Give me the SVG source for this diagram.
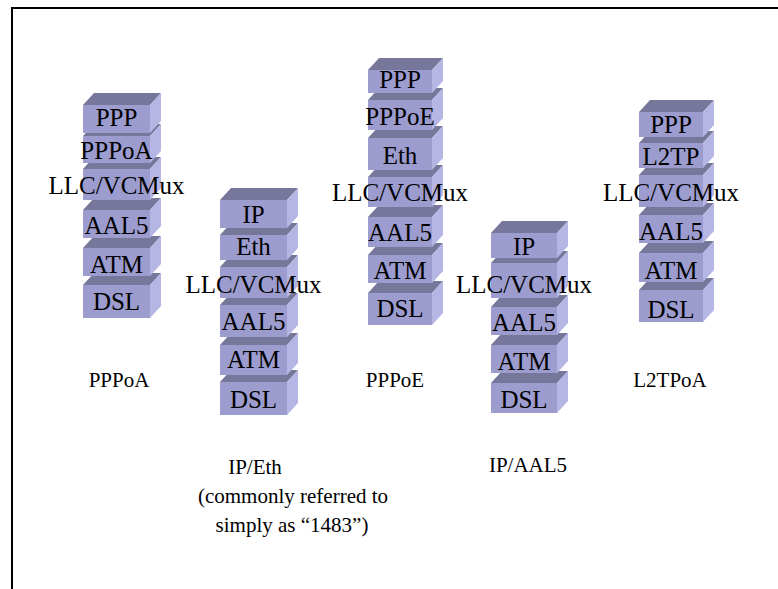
<svg xmlns="http://www.w3.org/2000/svg" width="778" height="589" viewBox="0 0 778 589">
  <style>
    .front { fill: #9c9ccf; }
    .top { fill: #77779c; }
    .side { fill: #b6b6e4; }
    text { font-family: 'Liberation Serif', 'DejaVu Serif', serif; fill: #000; text-anchor: middle; }
    .lbl { font-size: 25px; }
    .cap { font-size: 21px; }
    .frame { fill: none; stroke: #000; stroke-width: 2; }
  </style>
  <rect width="778" height="589" fill="#fff"/>
  <path class="frame" d="M12,589 V8 H778"/>

  <!-- PPPoA stack -->
  <g id="stack-pppoa">
    <g id="pppoa-dsl"><polygon class="top" points="83,285 150,285 161,273 94,273"/><polygon class="side" points="150,285 161,273 161,306 150,318"/><rect class="front" x="83" y="285" width="67" height="33"/><text class="lbl" x="116.5" y="310">DSL</text></g>
    <g id="pppoa-atm"><polygon class="top" points="83,248 150,248 161,236 94,236"/><polygon class="side" points="150,248 161,236 161,264 150,276"/><rect class="front" x="83" y="248" width="67" height="28"/><text class="lbl" x="116.5" y="273">ATM</text></g>
    <g id="pppoa-aal5"><polygon class="top" points="83,210 150,210 161,198 94,198"/><polygon class="side" points="150,210 161,198 161,226 150,238"/><rect class="front" x="83" y="210" width="67" height="28"/><text class="lbl" x="116.5" y="234">AAL5</text></g>
    <g id="pppoa-llc"><polygon class="top" points="83,169 150,169 161,157 94,157"/><polygon class="side" points="150,169 161,157 161,188 150,200"/><rect class="front" x="83" y="169" width="67" height="31"/><text class="lbl" x="116.5" y="194">LLC/VCMux</text></g>
    <g id="pppoa-pppoa"><polygon class="top" points="83,136 150,136 161,124 94,124"/><polygon class="side" points="150,136 161,124 161,151 150,163"/><rect class="front" x="83" y="136" width="67" height="27"/><text class="lbl" x="116.5" y="159">PPPoA</text></g>
    <g id="pppoa-ppp"><polygon class="top" points="83,105 150,105 161,93 94,93"/><polygon class="side" points="150,105 161,93 161,121 150,133"/><rect class="front" x="83" y="105" width="67" height="28"/><text class="lbl" x="116.5" y="126">PPP</text></g>
    <text class="cap" x="119" y="387">PPPoA</text>
  </g>

  <!-- IP over Ethernet stack -->
  <g id="stack-ipeth">
    <g id="ipeth-dsl"><polygon class="top" points="220,382 287,382 298,370 231,370"/><polygon class="side" points="287,382 298,370 298,403 287,415"/><rect class="front" x="220" y="382" width="67" height="33"/><text class="lbl" x="253.5" y="408">DSL</text></g>
    <g id="ipeth-atm"><polygon class="top" points="220,345 287,345 298,333 231,333"/><polygon class="side" points="287,345 298,333 298,363 287,375"/><rect class="front" x="220" y="345" width="67" height="30"/><text class="lbl" x="253.5" y="368">ATM</text></g>
    <g id="ipeth-aal5"><polygon class="top" points="220,305 287,305 298,293 231,293"/><polygon class="side" points="287,305 298,293 298,325 287,337"/><rect class="front" x="220" y="305" width="67" height="32"/><text class="lbl" x="253.5" y="330">AAL5</text></g>
    <g id="ipeth-llc"><polygon class="top" points="220,267 287,267 298,255 231,255"/><polygon class="side" points="287,267 298,255 298,286 287,298"/><rect class="front" x="220" y="267" width="67" height="31"/><text class="lbl" x="253.5" y="293">LLC/VCMux</text></g>
    <g id="ipeth-eth"><polygon class="top" points="220,235 287,235 298,223 231,223"/><polygon class="side" points="287,235 298,223 298,248 287,260"/><rect class="front" x="220" y="235" width="67" height="25"/><text class="lbl" x="253.5" y="255">Eth</text></g>
    <g id="ipeth-ip"><polygon class="top" points="220,200 287,200 298,188 231,188"/><polygon class="side" points="287,200 298,188 298,216 287,228"/><rect class="front" x="220" y="200" width="67" height="28"/><text class="lbl" x="253.5" y="223">IP</text></g>
    <text class="cap" x="255" y="474">IP/Eth</text>
    <text class="cap" x="293" y="503">(commonly referred to</text>
    <text class="cap" x="292" y="532">simply as “1483”)</text>
  </g>

  <!-- PPPoE stack -->
  <g id="stack-pppoe">
    <g id="pppoe-dsl"><polygon class="top" points="368,293 432,293 443,281 379,281"/><polygon class="side" points="432,293 443,281 443,313 432,325"/><rect class="front" x="368" y="293" width="64" height="32"/><text class="lbl" x="400" y="317">DSL</text></g>
    <g id="pppoe-atm"><polygon class="top" points="368,255 432,255 443,243 379,243"/><polygon class="side" points="432,255 443,243 443,271 432,283"/><rect class="front" x="368" y="255" width="64" height="28"/><text class="lbl" x="400" y="279">ATM</text></g>
    <g id="pppoe-aal5"><polygon class="top" points="368,217 432,217 443,205 379,205"/><polygon class="side" points="432,217 443,205 443,235 432,247"/><rect class="front" x="368" y="217" width="64" height="30"/><text class="lbl" x="400" y="241">AAL5</text></g>
    <g id="pppoe-llc"><polygon class="top" points="368,177 432,177 443,165 379,165"/><polygon class="side" points="432,177 443,165 443,195 432,207"/><rect class="front" x="368" y="177" width="64" height="30"/><text class="lbl" x="400" y="201">LLC/VCMux</text></g>
    <g id="pppoe-eth"><polygon class="top" points="368,138 432,138 443,126 379,126"/><polygon class="side" points="432,138 443,126 443,158 432,170"/><rect class="front" x="368" y="138" width="64" height="32"/><text class="lbl" x="400" y="164">Eth</text></g>
    <g id="pppoe-pppoe"><polygon class="top" points="368,100 432,100 443,88 379,88"/><polygon class="side" points="432,100 443,88 443,118 432,130"/><rect class="front" x="368" y="100" width="64" height="30"/><text class="lbl" x="400" y="125">PPPoE</text></g>
    <g id="pppoe-ppp"><polygon class="top" points="368,70 432,70 443,58 379,58"/><polygon class="side" points="432,70 443,58 443,81 432,93"/><rect class="front" x="368" y="70" width="64" height="23"/><text class="lbl" x="400" y="88">PPP</text></g>
    <text class="cap" x="395" y="387">PPPoE</text>
  </g>

  <!-- IP over AAL5 stack -->
  <g id="stack-ipaal5">
    <g id="ipaal5-dsl"><polygon class="top" points="491,383 557,383 568,371 502,371"/><polygon class="side" points="557,383 568,371 568,401 557,413"/><rect class="front" x="491" y="383" width="66" height="30"/><text class="lbl" x="524" y="408">DSL</text></g>
    <g id="ipaal5-atm"><polygon class="top" points="491,345 557,345 568,333 502,333"/><polygon class="side" points="557,345 568,333 568,361 557,373"/><rect class="front" x="491" y="345" width="66" height="28"/><text class="lbl" x="524" y="370">ATM</text></g>
    <g id="ipaal5-aal5"><polygon class="top" points="491,307 557,307 568,295 502,295"/><polygon class="side" points="557,307 568,295 568,323 557,335"/><rect class="front" x="491" y="307" width="66" height="28"/><text class="lbl" x="524" y="331">AAL5</text></g>
    <g id="ipaal5-llc"><polygon class="top" points="491,263 557,263 568,251 502,251"/><polygon class="side" points="557,263 568,251 568,286 557,298"/><rect class="front" x="491" y="263" width="66" height="35"/><text class="lbl" x="524" y="293">LLC/VCMux</text></g>
    <g id="ipaal5-ip"><polygon class="top" points="491,233 557,233 568,221 502,221"/><polygon class="side" points="557,233 568,221 568,246 557,258"/><rect class="front" x="491" y="233" width="66" height="25"/><text class="lbl" x="524" y="255">IP</text></g>
    <text class="cap" x="528" y="472">IP/AAL5</text>
  </g>

  <!-- L2TP over ATM stack -->
  <g id="stack-l2tpoa">
    <g id="l2tpoa-dsl"><polygon class="top" points="639,290 703,290 714,278 650,278"/><polygon class="side" points="703,290 714,278 714,310 703,322"/><rect class="front" x="639" y="290" width="64" height="32"/><text class="lbl" x="671" y="318">DSL</text></g>
    <g id="l2tpoa-atm"><polygon class="top" points="639,253 703,253 714,241 650,241"/><polygon class="side" points="703,253 714,241 714,270 703,282"/><rect class="front" x="639" y="253" width="64" height="29"/><text class="lbl" x="671" y="279">ATM</text></g>
    <g id="l2tpoa-aal5"><polygon class="top" points="639,215 703,215 714,203 650,203"/><polygon class="side" points="703,215 714,203 714,231 703,243"/><rect class="front" x="639" y="215" width="64" height="28"/><text class="lbl" x="671" y="240">AAL5</text></g>
    <g id="l2tpoa-llc"><polygon class="top" points="639,175 703,175 714,163 650,163"/><polygon class="side" points="703,175 714,163 714,195 703,207"/><rect class="front" x="639" y="175" width="64" height="32"/><text class="lbl" x="671" y="201">LLC/VCMux</text></g>
    <g id="l2tpoa-l2tp"><polygon class="top" points="639,143 703,143 714,131 650,131"/><polygon class="side" points="703,143 714,131 714,156 703,168"/><rect class="front" x="639" y="143" width="64" height="25"/><text class="lbl" x="671" y="165">L2TP</text></g>
    <g id="l2tpoa-ppp"><polygon class="top" points="639,112 703,112 714,100 650,100"/><polygon class="side" points="703,112 714,100 714,125 703,137"/><rect class="front" x="639" y="112" width="64" height="25"/><text class="lbl" x="671" y="133">PPP</text></g>
    <text class="cap" x="670" y="387">L2TPoA</text>
  </g>
</svg>
